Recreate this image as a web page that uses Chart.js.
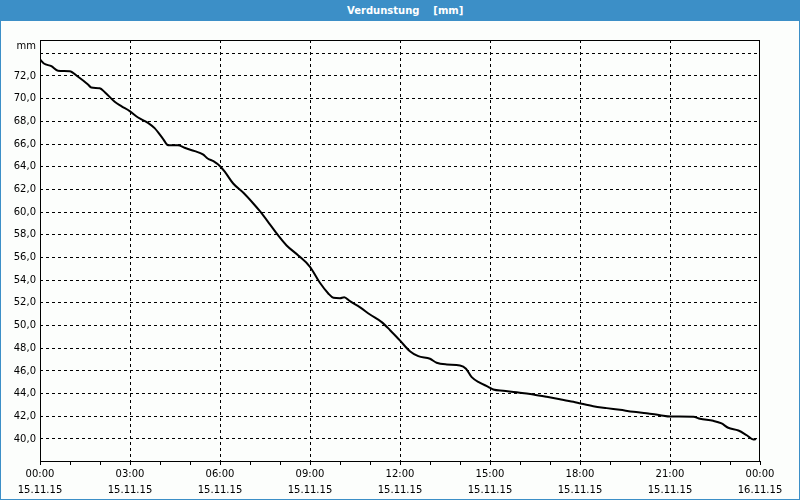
<!DOCTYPE html>
<html>
<head>
<meta charset="utf-8">
<script src="https://cdn.jsdelivr.net/npm/chart.js@4/dist/chart.umd.min.js"></script>
<style>
  body { margin: 0; background: #fcfefc; }
  #frame { position: absolute; left: 0; top: 0; width: 800px; height: 500px; box-sizing: border-box;
           border: 1px solid #3c8fc7; border-top: none; background: #fcfefc; }
  #title { position: absolute; left: 0; top: 0; width: 800px; height: 21px; background: #3c8fc7;
           color: #fff; font: bold 10px "DejaVu Sans", sans-serif; line-height: 21px;
           white-space: pre; }
  #title span { position: absolute; left: 347px; top: 0; }
  #graph { position: absolute; left: 0; top: 0; }
</style>
</head>
<body>
<div id="frame"></div>
<div id="title"><span>Verdunstung    [mm]</span></div>
<canvas id="graph" width="800" height="500"></canvas>
<script>
// time in hours since 15.11.15 00:00
var hours = [0.00, 0.13, 0.38, 0.60, 0.99, 1.27, 1.60, 1.71, 1.99, 2.16, 2.49, 2.71, 2.99, 3.27, 3.60, 3.82,
    4.10, 4.27, 4.60, 4.82, 5.16, 5.43, 5.60, 5.78, 6.02, 6.17, 6.44, 6.78, 7.11, 7.33, 7.67, 7.94,
    8.22, 8.61, 9.00, 9.33, 9.61, 9.78, 10.00, 10.14, 10.33, 10.67, 11.00, 11.39, 11.67, 12.00, 12.33,
    12.61, 13.00, 13.22, 13.56, 14.00, 14.20, 14.39, 14.67, 14.94, 15.11, 15.44, 15.89, 16.28, 16.44,
    16.89, 17.33, 17.78, 18.02, 18.44, 18.89, 19.33, 19.78, 20.22, 20.67, 21.02, 21.78, 22.00, 22.44,
    22.72, 22.94, 23.28, 23.56, 23.78, 23.87]
// Verdunstung [mm]
var evaporation = [73.45, 73.10, 72.86, 72.46, 72.42, 71.93, 71.25, 70.98, 70.92, 70.57, 69.72, 69.34, 68.90, 68.34, 67.87, 67.40,
    66.46, 65.90, 65.90, 65.67, 65.37, 65.08, 64.70, 64.49, 64.00, 63.52, 62.52, 61.70, 60.76, 60.08, 58.90, 57.94,
    57.06, 56.18, 55.18, 53.77, 52.83, 52.45, 52.41, 52.50, 52.15, 51.60, 50.97, 50.30, 49.59, 48.68, 47.74,
    47.30, 47.07, 46.72, 46.57, 46.48, 46.19, 45.45, 44.95, 44.60, 44.36, 44.25, 44.13, 43.98, 43.92,
    43.72, 43.51, 43.28, 43.13, 42.89, 42.72, 42.57, 42.40, 42.27, 42.10, 41.98, 41.96, 41.78, 41.60,
    41.37, 40.99, 40.75, 40.33, 39.96, 40.00]

var yTicks = [40, 42, 44, 46, 48, 50, 52, 54, 56, 58, 60, 62, 64, 66, 68, 70, 72, 74]
var hourTicks = [0, 1, 2, 3, 4, 5, 6, 7, 8, 9, 10, 11, 12, 13, 14, 15, 16, 17, 18, 19, 20, 21, 22, 23, 24]
var timeLabels = ['00:00', '03:00', '06:00', '09:00', '12:00', '15:00', '18:00', '21:00', '00:00']
var dateLabels = ['15.11.15', '15.11.15', '15.11.15', '15.11.15', '15.11.15', '15.11.15', '15.11.15', '15.11.15', '16.11.15']

var labelFont = { family: 'DejaVu Sans', size: 10, lineHeight: 1.6 }

// frame around plot area + unit label
var frame = {
    id: 'frame',
    afterDraw: function(chart) {
        var a = chart.chartArea, c = chart.ctx
        c.save()
        c.strokeStyle = '#000'
        c.lineWidth = 1
        c.strokeRect(a.left + 0.5, a.top + 0.5, a.right - a.left - 1, a.bottom - a.top)
        c.fillStyle = '#000'
        c.font = '10px "DejaVu Sans"'
        c.textAlign = 'right'
        c.textBaseline = 'middle'
        c.fillText('mm', 36, 46)
        c.restore()
    }
}

var config = {
    type: 'line',
    data: {
        datasets: [{
            data: hours.map(function(h, i) { return { x: h, y: evaporation[i] } }),
            borderColor: '#000',
            borderWidth: 2,
            fill: false,
            cubicInterpolationMode: 'monotone',
        }],
    },
    options: {
        responsive: false,
        animation: false,
        devicePixelRatio: 1,
        layout: { padding: { left: 0, top: 40, right: 40, bottom: 0 } },
        elements: { point: { radius: 0 } },
        plugins: { legend: false, tooltip: { enabled: false } },
        scales: {
            x: {
                type: 'linear',
                min: 0,
                max: 24,
                afterBuildTicks: function(s) { s.ticks = hourTicks.map(function(v) { return { value: v } }) },
                afterFit: function(s) { s.height = 39 },
                grid: {
                    color: function(c) {
                        var v = c.tick ? c.tick.value : 0
                        return (v % 3 === 0 && v > 0 && v < 24) ? '#000' : 'rgba(0,0,0,0)'
                    },
                    tickColor: '#000',
                    tickLength: 4,
                    lineWidth: 1,
                },
                border: { display: false, dash: [3, 3] },
                ticks: {
                    autoSkip: false,
                    maxRotation: 0,
                    padding: 1,
                    color: '#000',
                    font: labelFont,
                    callback: function(v) {
                        if (v % 3 !== 0) return ''
                        return [timeLabels[v / 3], dateLabels[v / 3]]
                    }
                }
            },
            y: {
                min: 38.06,
                max: 75.17,
                afterBuildTicks: function(s) { s.ticks = yTicks.map(function(v) { return { value: v } }) },
                afterFit: function(s) { s.width = 40 },
                grid: { color: '#000', drawTicks: false, lineWidth: 1 },
                border: { display: false, dash: [3, 3] },
                ticks: {
                    padding: 4,
                    color: '#000',
                    font: labelFont,
                    callback: function(v) { return v === 74 ? '' : v.toFixed(1).replace('.', ',') }
                }
            }
        }
    },
    plugins: [frame]
}

new Chart(document.getElementById('graph').getContext('2d'), config)
</script>
</body>
</html>
